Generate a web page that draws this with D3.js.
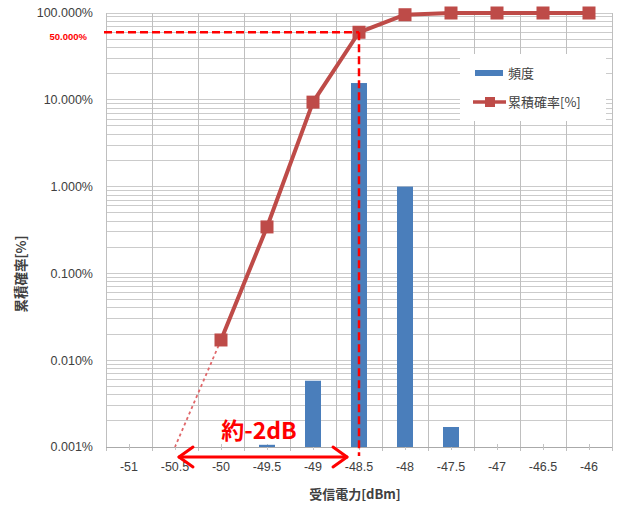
<!DOCTYPE html>
<html><head><meta charset="utf-8">
<script src="https://cdn.jsdelivr.net/npm/d3@7"></script>
<style>body{margin:0;background:#fff}svg{display:block}</style>
</head><body><svg id="c" width="630" height="508"></svg>
<script>
const categories = ["-51","-50.5","-50","-49.5","-49","-48.5","-48","-47.5","-47","-46.5","-46"];
const freqPct = [null, null, null, 0.00106, 0.0058, 15.6, 1.0, 0.0017, null, null, null];
const cumPct = [null, null, 0.0171, 0.343, 9.4, 60, 95.5, 100, 100, 100, 100];
const yTicks = [0.001, 0.01, 0.1, 1, 10, 100];
const yTickLabels = ["0.001%","0.010%","0.100%","1.000%","10.000%","100.000%"];
const refLabel = "50.000%";
const extPoint = {cat: "-50.5", v: 0.001};
const refCat = "-48.5";
const arrowFrom = -50.5, arrowTo = -48.5;
const labels = {x: "受信電力[dBm]", y: "累積確率[%]", s1: "頻度", s2: "累積確率[%]", note: "約-2dB"};

const svg = d3.select("#c");
const L = 106, R = 612, T = 13, B = 447;
const x = d3.scaleBand().domain(categories).range([L, R]).padding(0);
const cx = c => x(c) + x.bandwidth()/2;
const y = d3.scaleLog().domain([0.001, 100]).range([B, T]);
const cjk = "'Noto Sans CJK JP', sans-serif";
const lat = "'Liberation Sans', Arial, sans-serif";
const grid = "#cbcbcb";

// minor + major horizontal gridlines
const hLines = [];
for (let d = 0.001; d < 100; d *= 10) for (let k = 1; k <= 9; k++) hLines.push(d*k);
hLines.push(100);
svg.append("g").selectAll("line").data(hLines).join("line")
  .attr("x1", L).attr("x2", R).attr("y1", d => y(d)).attr("y2", d => y(d))
  .attr("stroke", grid).attr("stroke-width", 1).attr("shape-rendering","crispEdges");
// vertical gridlines at band edges
const vEdges = categories.map(c => x(c)).concat([R]);
svg.append("g").selectAll("line").data(vEdges).join("line")
  .attr("x1", d => d).attr("x2", d => d).attr("y1", T).attr("y2", B + 4)
  .attr("stroke", "#bfbfbf").attr("stroke-width", 1).attr("shape-rendering","crispEdges");
// x axis line + center ticks
svg.append("line").attr("x1", L).attr("x2", R).attr("y1", B).attr("y2", B)
  .attr("stroke", "#aaaaaa").attr("shape-rendering","crispEdges");
svg.append("g").selectAll("line").data(categories).join("line")
  .attr("x1", d => cx(d)).attr("x2", d => cx(d)).attr("y1", B - 3).attr("y2", B + 3)
  .attr("stroke", "#c4c4c4").attr("shape-rendering","crispEdges");

// legend background
svg.append("rect").attr("x", 460).attr("y", 54).attr("width", 146).attr("height", 67).attr("fill", "#fff");

// bars
const bw = 16;
svg.append("g").selectAll("rect").data(categories.map((c,i)=>({c, v: freqPct[i]})).filter(d => d.v != null))
  .join("rect")
  .attr("x", d => cx(d.c) - bw/2).attr("width", bw)
  .attr("y", d => y(d.v)).attr("height", d => B - y(d.v))
  .attr("fill", "#4a7ebb");

// y tick labels
svg.append("g").selectAll("text").data(yTicks).join("text")
  .attr("x", 93).attr("y", d => y(d)).attr("dy", "0.35em").attr("text-anchor", "end")
  .attr("font-family", lat).attr("font-size", 12.5).attr("fill", "#404040")
  .text((d,i) => yTickLabels[i]);
// x tick labels
svg.append("g").selectAll("text").data(categories).join("text")
  .attr("x", d => cx(d)).attr("y", 471).attr("text-anchor", "middle")
  .attr("font-family", lat).attr("font-size", 12.5).attr("fill", "#404040")
  .text(d => d);

// axis titles
svg.append("text").attr("x", 355).attr("y", 499).attr("text-anchor", "middle")
  .attr("font-family", cjk).attr("font-size", 13).attr("font-weight", "bold").attr("fill", "#404040")
  .text(labels.x);
svg.append("text").attr("transform", "translate(26,274) rotate(-90)").attr("text-anchor", "middle")
  .attr("font-family", cjk).attr("font-size", 13.5).attr("font-weight", "bold").attr("fill", "#404040")
  .text(labels.y);

// extension dashed line
const firstIdx = cumPct.findIndex(v => v != null);
svg.append("line")
  .attr("x1", cx(categories[firstIdx])).attr("y1", y(cumPct[firstIdx]))
  .attr("x2", cx(extPoint.cat)).attr("y2", y(extPoint.v))
  .attr("stroke", "#e0676a").attr("stroke-width", 1.8).attr("stroke-dasharray", "3,3");

// cumulative line
const lineData = categories.map((c,i)=>({c, v: cumPct[i]})).filter(d => d.v != null);
const red = "#be4b48";
svg.append("path").datum(lineData)
  .attr("d", d3.line().x(d => cx(d.c)).y(d => y(d.v)))
  .attr("fill", "none").attr("stroke", red).attr("stroke-width", 4).attr("stroke-linejoin", "round");
const ms = 13;
svg.append("g").selectAll("rect").data(lineData).join("rect")
  .attr("x", d => cx(d.c) - ms/2).attr("y", d => y(d.v) - ms/2)
  .attr("width", ms).attr("height", ms).attr("fill", red);

// reference dashed lines
const refIdx = categories.indexOf(refCat);
const refY = y(cumPct[refIdx]);
svg.append("line").attr("x1", 104).attr("x2", cx(refCat)).attr("y1", refY).attr("y2", refY)
  .attr("stroke", "#ff0000").attr("stroke-width", 2.5).attr("stroke-dasharray", "8,4");
svg.append("line").attr("x1", cx(refCat)).attr("x2", cx(refCat)).attr("y1", refY).attr("y2", 456)
  .attr("stroke", "#ff0000").attr("stroke-width", 2.5).attr("stroke-dasharray", "8,4");
svg.append("text").attr("x", 87).attr("y", refY + 8).attr("text-anchor", "end")
  .attr("font-family", lat).attr("font-size", 9.5).attr("font-weight", "bold").attr("fill", "#ff0000")
  .text(refLabel);

// arrow
const xv = v => cx(String(v));
const ax1 = xv(arrowFrom) + 4, ax2 = xv(arrowTo) - 12, ay = 457;
const ag = svg.append("g").attr("stroke", "#ff0000").attr("stroke-width", 3).attr("fill", "none")
  .attr("stroke-linecap", "round").attr("stroke-linejoin", "round");
ag.append("line").attr("x1", ax1).attr("x2", ax2).attr("y1", ay).attr("y2", ay);
ag.append("path").attr("d", `M${ax1+14},${ay-10} L${ax1},${ay} L${ax1+14},${ay+10}`);
ag.append("path").attr("d", `M${ax2-14},${ay-10} L${ax2},${ay} L${ax2-14},${ay+10}`);
svg.append("text").attr("x", 259).attr("y", 439).attr("text-anchor", "middle")
  .attr("font-family", cjk).attr("font-size", 23).attr("font-weight", "bold").attr("fill", "#ff0000")
  .text(labels.note);

// legend
svg.append("rect").attr("x", 475).attr("y", 70).attr("width", 28).attr("height", 6).attr("fill", "#4a7ebb");
svg.append("text").attr("x", 508).attr("y", 73).attr("dy", "0.35em")
  .attr("font-family", cjk).attr("font-size", 13).attr("fill", "#404040").text(labels.s1);
svg.append("line").attr("x1", 473).attr("x2", 506).attr("y1", 102).attr("y2", 102)
  .attr("stroke", red).attr("stroke-width", 3.5);
svg.append("rect").attr("x", 485).attr("y", 97).attr("width", 10).attr("height", 10).attr("fill", red);
svg.append("text").attr("x", 508).attr("y", 102).attr("dy", "0.35em")
  .attr("font-family", cjk).attr("font-size", 13).attr("fill", "#404040").text(labels.s2);
</script></body></html>
